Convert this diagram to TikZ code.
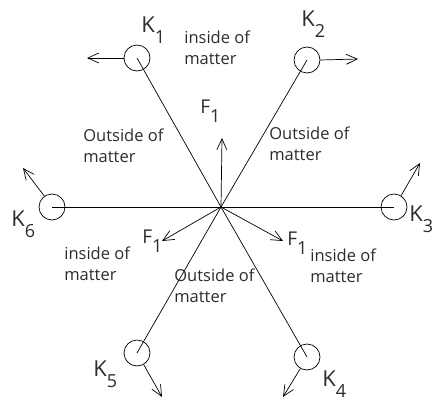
\documentclass[tikz,border=0pt]{standalone}
\usepackage{fontspec}
\setmainfont{Open Sans}
\usetikzlibrary{positioning,arrows.meta}
\definecolor{cInk}{HTML}{2E2A30}
\newcommand\lowidx[1]{\raisebox{-0.5em}{\fontsize{18}{18}\selectfont #1}}

\begin{document}
\begin{tikzpicture}[x=1pt,y=-1pt,line width=0.7pt,
      ring/.style={circle,draw,minimum size=26pt,inner sep=0pt},
      pull/.style={-{Straight Barb[length=11pt,width=10pt]}},
      klab/.style={anchor=base west,inner sep=0pt,text=cInk,font=\fontsize{22}{22}\selectfont},
      flab/.style={anchor=base west,inner sep=0pt,text=cInk,font=\fontsize{19}{19}\selectfont},
      note/.style={anchor=base west,inner sep=0pt,align=left,text=cInk,
                   font=\fontsize{16.5}{21}\selectfont}]
    \useasboundingbox (0,0) rectangle (443,401);
    \coordinate (c) at (221,207);
    % spokes and rings
    \node[ring] (k1) at (137,58)  {};
    \node[ring] (k2) at (307,60)  {};
    \node[ring] (k3) at (394,207) {};
    \node[ring] (k4) at (307,357) {};
    \node[ring] (k5) at (137,353) {};
    \node[ring] (k6) at (52,207)  {};
    \foreach \k in {k1,k2,k3,k4,k5,k6}
      \draw (c) -- (\k.center);
    % arrows leaving the rings
    \coordinate (a1) at (87,58);
    \coordinate (a2) at (358,59);
    \coordinate (a3) at (420,163);
    \coordinate (a4) at (283,397);
    \coordinate (a5) at (162,397);
    \coordinate (a6) at (23,168);
    \draw[pull] (k1.west) -- (a1);
    \draw[pull] (k2.east) -- (a2);
    \draw[pull] (k3.58) -- (a3);
    \draw[pull] (k4.-120) -- (a4);
    \draw[pull] (k5.-60) -- (a5);
    \draw[pull] (k6.125) -- (a6);
    % forces at the centre
    \coordinate (f1) at (222,138);
    \coordinate (f2) at (162,241);
    \coordinate (f3) at (283,241);
    \draw[pull] (c) -- (f1);
    \draw[pull] (c) -- (f2);
    \draw[pull] (c) -- (f3);
    % labels
    \node[klab] (l1) at (141,33)  {K\lowidx{1}};
    \node[klab] (l2) at (301,27)  {K\lowidx{2}};
    \node[klab] (l3) at (409,221) {K\lowidx{3}};
    \node[klab] (l4) at (322,386) {K\lowidx{4}};
    \node[klab] (l5) at (93,376)  {K\lowidx{5}};
    \node[klab] (l6) at (11,226)  {K\lowidx{6}};
    \node[flab] (g1) at (200,113) {F\lowidx{1}};
    \node[flab] (g2) at (142,243) {F\lowidx{1}};
    \node[flab] (g3) at (287,245) {F\lowidx{1}};
    \node[note] (t1) at (184,65)  {inside of\\matter};
    \node[note] (t2) at (83,162)  {Outside of\\matter};
    \node[note] (t3) at (269,160) {Outside of\\matter};
    \node[note] (t4) at (64,280)  {inside of\\matter};
    \node[note] (t5) at (174,302) {Outside of\\matter};
    \node[note] (t6) at (310,282) {inside of\\matter};
  \end{tikzpicture}
\end{document}
